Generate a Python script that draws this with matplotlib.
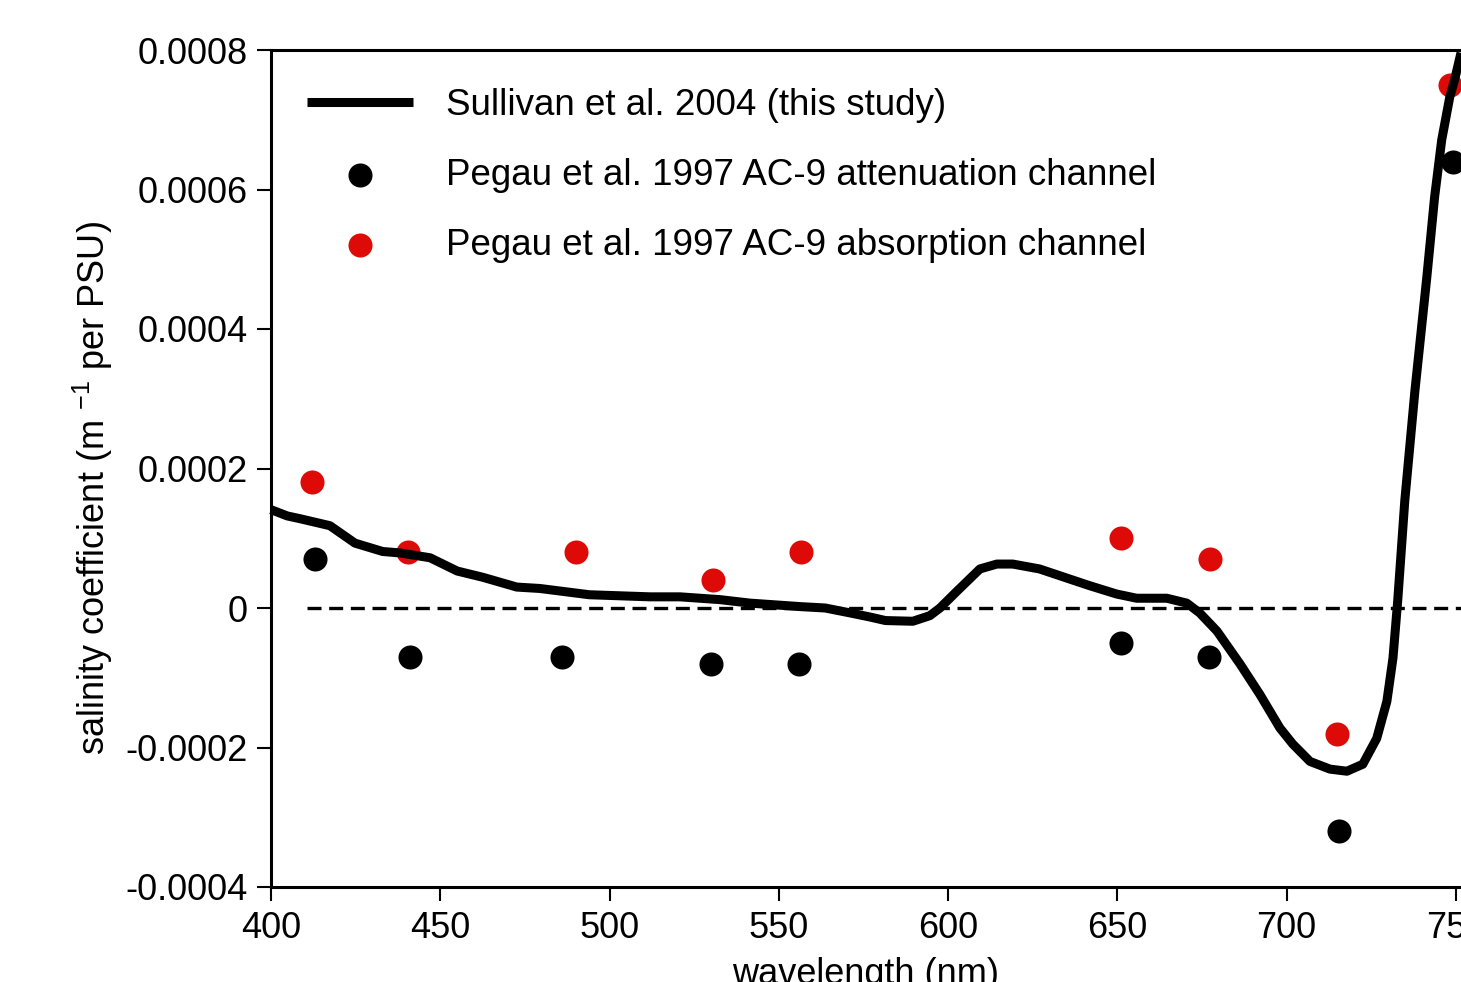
import numpy as np
import matplotlib
matplotlib.use("Agg")
from matplotlib import pyplot as plt

plt.rcParams['font.family'] = ['Liberation Sans', 'DejaVu Sans']
plt.rcParams['mathtext.fontset'] = 'custom'
plt.rcParams['mathtext.rm'] = 'Liberation Sans'

# Sullivan et al. 2004 curve
wl = [400, 404.8, 408.6, 417.4, 424.8, 433, 438, 447, 455, 462.6, 472.6, 479.4,
      494, 512, 520.8, 532.6, 541.5, 556.3, 563.7, 571, 577, 581.5, 589.6, 594.6,
      597.6, 602.6, 609.4, 614.4, 619.1, 627, 635, 641.8, 649.8, 655.7, 664.6,
      670.5, 674.3, 679.4, 686.2, 692.1, 698, 701.8, 706.9, 712.8, 717.8, 722.5,
      726.6, 729.6, 731.4, 732.8, 734.9, 737.9, 741.4, 743.7, 745.8, 748.2,
      749.6, 751.5]
coef = [0.000141, 0.000132, 0.000128, 0.000118, 0.000093, 0.000081, 0.000079,
        0.000072, 0.000053, 0.000044, 0.000030, 0.000028, 0.000019, 0.000016,
        0.000016, 0.000012, 0.000007, 0.000002, 0.0, -0.000007, -0.000013,
        -0.000018, -0.000019, -0.000011, 0.0, 0.000024, 0.000056, 0.000063,
        0.000063, 0.000056, 0.000043, 0.000032, 0.00002, 0.000014, 0.000014,
        0.000007, -0.000007, -0.000033, -0.00008, -0.000124, -0.000172,
        -0.000195, -0.00022, -0.000231, -0.000234, -0.000224, -0.000187,
        -0.000134, -0.000072, 0.00001, 0.000154, 0.000312, 0.000474, 0.000589,
        0.000671, 0.000733, 0.000757, 0.000796]

# Pegau et al. 1997 AC-9
wl_c = [413, 441, 486, 530, 556, 651, 677, 715.5, 749]
att_c = [0.00007, -0.00007, -0.00007, -0.00008, -0.00008, -0.00005, -0.00007, -0.00032, 0.00064]
wl_a = [412, 440.5, 490, 530.5, 556.5, 651, 677.3, 715, 748.3]
abs_a = [0.00018, 0.00008, 0.00008, 0.00004, 0.00008, 0.0001, 0.00007, -0.00018, 0.00075]

fs = 26
fig = plt.figure(figsize=(14.61, 9.82), dpi=100)
ax = fig.add_axes([271/1461, 1-887/982, 1-271/1461, (887-50)/982])

ax.plot([410.6, 751.5], [0, 0], color='black', lw=2.4, dashes=(4.2, 2.3))
ax.plot(wl, coef, color='black', lw=6.5, solid_capstyle='butt',
        label='Sullivan et al. 2004 (this study)', clip_on=False, zorder=3)
ax.scatter(wl_c, att_c, s=300, color='black', linewidths=0,
           label='Pegau et al. 1997 AC-9 attenuation channel', zorder=2, clip_on=False)
ax.scatter(wl_a, abs_a, s=300, color='#dd0a08', linewidths=0,
           label='Pegau et al. 1997 AC-9 absorption channel', zorder=2, clip_on=False)

ax.set_xlim(400, 751.5)
ax.set_ylim(-0.0004, 0.0008)
ax.set_xticks(np.arange(400, 751, 50))
ax.set_yticks([-0.0004, -0.0002, 0, 0.0002, 0.0004, 0.0006, 0.0008])
ax.set_yticklabels(['-0.0004', '-0.0002', '0', '0.0002', '0.0004', '0.0006', '0.0008'])
ax.tick_params(labelsize=fs, length=10, width=1.5, direction='out', pad=7)
for s in ['left', 'bottom', 'top']:
    ax.spines[s].set_linewidth(2.2)
ax.spines['right'].set_visible(False)

ax.set_xlabel('wavelength (nm)', fontsize=fs, labelpad=8)
ax.set_ylabel(r'salinity coefficient (m $^{\mathrm{-1}}$ per PSU)', fontsize=fs)
ax.yaxis.set_label_coords(-0.131, 0.477)

ax.legend(loc='upper left', bbox_to_anchor=(0.030, 0.955), frameon=False,
          fontsize=26.5, handlelength=2.9, handletextpad=0.88, labelspacing=0.95,
          borderpad=0, borderaxespad=0, scatterpoints=1, markerscale=1)

fig.savefig('out.png', dpi=100)
